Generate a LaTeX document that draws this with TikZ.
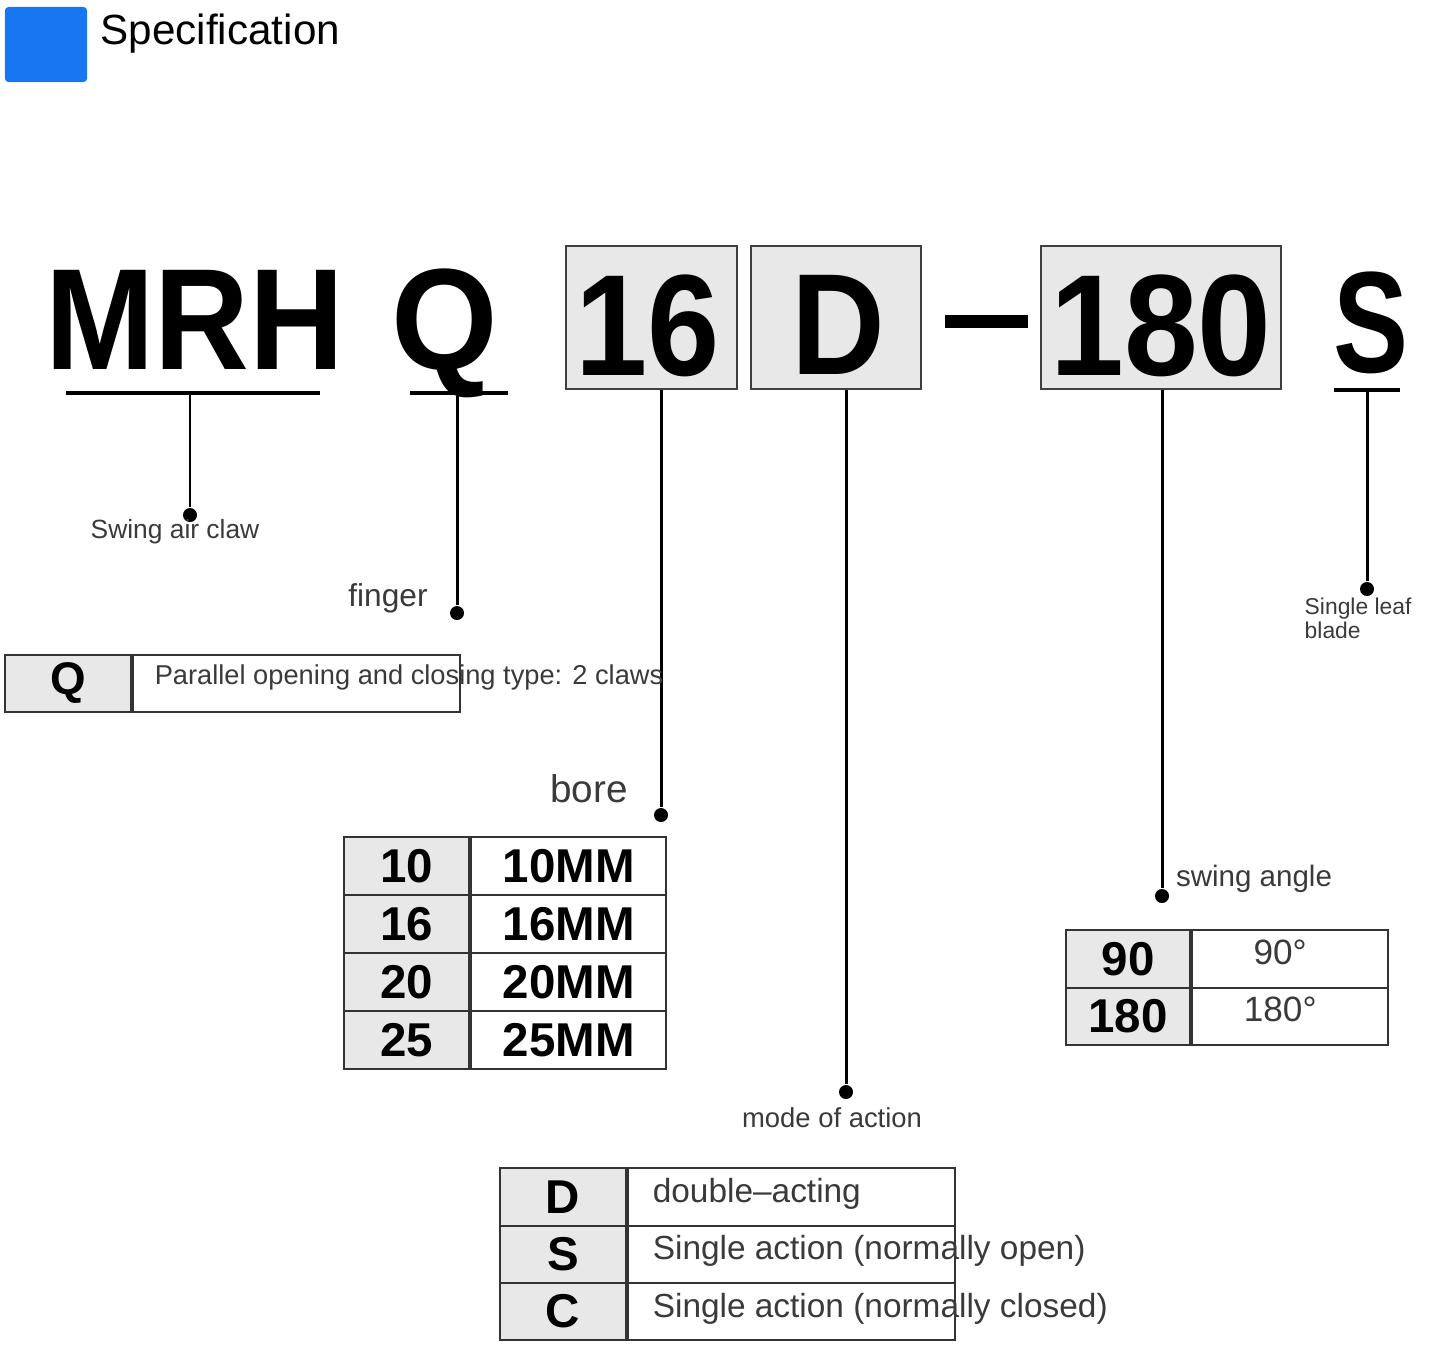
\documentclass[tikz,border=0pt]{standalone}
\usepackage{fontspec}
\setmainfont{Liberation Sans}
\usetikzlibrary{positioning}
\definecolor{specblue}{HTML}{1677F0}
\definecolor{cellgray}{HTML}{E8E8E8}
\definecolor{labelgray}{HTML}{3A3A3A}
\newcommand{\narrow}[2][0.9]{\scalebox{#1}[1]{#2}}

\begin{document}
\begin{tikzpicture}[x=0.01cm, y=-0.01cm,
    big/.style={font=\fontsize{41}{41}\selectfont\bfseries, inner sep=0, anchor=base},
    codebox/.style={draw=black!75, line width=0.6pt, fill=cellgray, inner sep=0, minimum height=1.43cm},
    uline/.style={line width=0.9pt},
    lead/.style={line width=0.85pt},
    dot/.style={circle, fill, inner sep=0, minimum size=0.14cm},
    lbl/.style={font=\fontsize{7.5}{9}\selectfont, text=labelgray, inner sep=0},
    keycell/.style={draw=black!80, line width=0.6pt, fill=cellgray, inner sep=0, minimum width=1.25cm, minimum height=0.58cm, font=\fontsize{13.5}{14}\selectfont\bfseries},
    valcell/.style={draw=black!80, line width=0.6pt, fill=white, inner sep=0, minimum height=0.58cm},
    desc/.style={font=\fontsize{9.5}{10}\selectfont, text=labelgray, inner sep=0, anchor=west},
]
    \useasboundingbox (0,0) rectangle (1434,1347);

    % title
    \node[fill=specblue, rounded corners=1pt, minimum width=0.82cm, minimum height=0.75cm, inner sep=0] (bluemark) at (46,44.5) {};
    \node[font=\fontsize{12}{12}\selectfont, anchor=base west, inner sep=0] (spec) at (100,44) {Specification};

    % model code
    \node[codebox, minimum width=1.71cm] (b16) at (651.5,317.5) {};
    \node[codebox, minimum width=1.70cm] (bD) at (836,317.5) {};
    \node[codebox, minimum width=2.40cm] (b180) at (1161,317.5) {};
    \node[big] (tmrh) at (195,369) {\narrow[0.91]{MRH}};
    \node[big] (tq) at (445,369) {\narrow[0.95]{Q}};
    \node[big] (t16) at (648,375) {\narrow{16}};
    \node[big] (tD) at (838,374) {\narrow{D}};
    \node[big] (t180) at (1161,375) {\narrow[0.92]{180}};
    \node[big] (tS) at (1371,372) {\narrow[0.78]{S}};
    \fill (945,315) rectangle (1028,328);

    \draw[uline] (66,393) -- (320,393);
    \draw[uline] (410,393) -- (508,393);
    \draw[uline] (1334,390) -- (1400,390);
    \coordinate (umrh) at (190,393);
    \coordinate (uq) at (457,393);
    \coordinate (us) at (1367,390);

    % leads
    \node[dot] (dmrh) at (190,515) {};
    \node[dot] (dq) at (457,613) {};
    \node[dot] (dbore) at (661,815) {};
    \node[dot] (dmode) at (846,1092) {};
    \node[dot] (dangle) at (1162,896) {};
    \node[dot] (dblade) at (1367,589) {};
    \draw[lead] (umrh) -- (dmrh);
    \draw[lead] (uq) -- (dq);
    \draw[lead] (b16.south -| dbore) -- (dbore);
    \draw[lead] (bD.south -| dmode) -- (dmode);
    \draw[lead] (b180.south -| dangle) -- (dangle);
    \draw[lead] (us) -- (dblade);

    \node[lbl] (lmrh) at (175,532) {Swing air claw};
    \node[lbl, font=\fontsize{9}{10}\selectfont] (lq) at (388,598) {finger};
    \node[lbl, font=\fontsize{11}{12}\selectfont] (lbore) at (589,789) {bore};
    \node[lbl, font=\fontsize{7.8}{9}\selectfont] (lmode) at (832,1118) {mode of action};
    \node[lbl, font=\fontsize{8.4}{9}\selectfont] (langle) at (1254,879) {swing angle};
    \node[lbl, font=\fontsize{6.5}{6.8}\selectfont, align=left, anchor=north west] (lblade) at (1304,597) {Single leaf\\blade};

    % finger table
    \node[keycell, minimum width=1.26cm, minimum height=0.57cm, font=\fontsize{13}{13}\selectfont\bfseries] (qk) at (68,683.5) {Q};
    \node[valcell, minimum width=3.27cm, minimum height=0.57cm, anchor=west] (qv) at (qk.east) {};
    \node[desc, font=\fontsize{7.75}{9}\selectfont] (qt) at ([xshift=0.22cm, yshift=0.06cm]qv.west) {Parallel opening and closing type: 2 claws};

    % bore table
    \foreach \k [count=\i] in {10,16,20,25}{
        \node[keycell] (bk\i) at (406.5,{866+58*(\i-1)}) {\k};
        \node[valcell, minimum width=1.95cm, anchor=west, font=\fontsize{13.5}{14}\selectfont\bfseries] (bv\i) at (bk\i.east) {\k MM};
    }

    % angle table
    \foreach \k/\v [count=\i] in {90/90°,180/180°}{
        \node[keycell, minimum width=1.24cm, minimum height=0.575cm] (ak\i) at (1128,{959+57.5*(\i-1)}) {\k};
        \node[valcell, minimum width=1.96cm, minimum height=0.575cm, anchor=west] (av\i) at (ak\i.east) {};
        \node[font=\fontsize{10}{10}\selectfont, text=labelgray, inner sep=0] (at\i) at ([xshift=-0.1cm, yshift=0.07cm]av\i.center) {\v};
    }

    % action table
    \foreach \k/\t [count=\i] in {D/double--acting, S/Single action (normally open), C/Single action (normally closed)}{
        \node[keycell, minimum width=1.26cm, minimum height=0.573cm] (mk\i) at (563,{1197+57.3*(\i-1)}) {\k};
        \node[valcell, minimum width=3.27cm, minimum height=0.573cm, anchor=west] (mv\i) at (mk\i.east) {};
        \node[desc] (mt\i) at ([xshift=0.25cm, yshift=0.03cm]mv\i.west) {\t};
    }
\end{tikzpicture}
\end{document}
